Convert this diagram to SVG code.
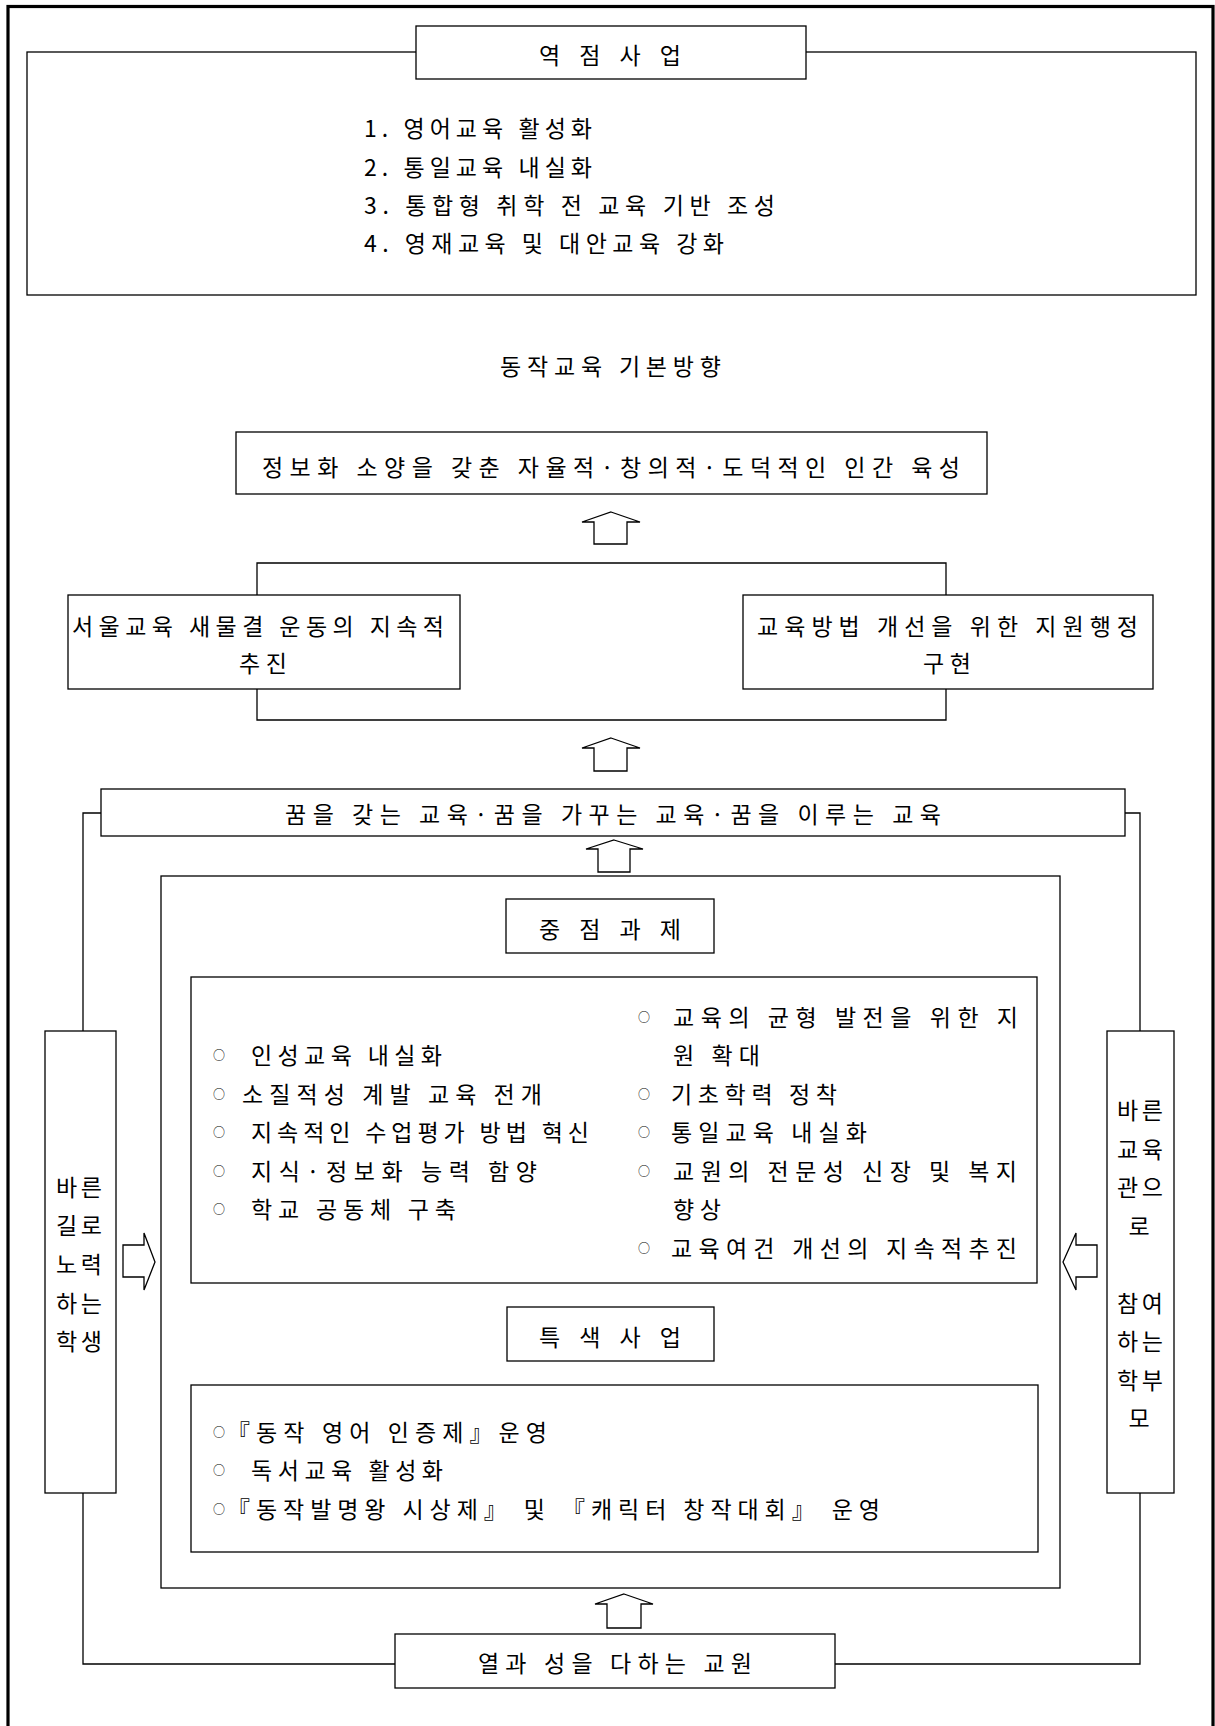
<svg xmlns="http://www.w3.org/2000/svg" width="1215" height="1726" viewBox="0 0 1215 1726">
<style>
.box{fill:#fff;stroke:#000;stroke-width:1.3}
.ln{fill:none;stroke:#000;stroke-width:1.3}
.arr{fill:#fff;stroke:#000;stroke-width:1.3;stroke-linejoin:miter}
.t{font-family:"Noto Sans CJK KR","Noto Sans",sans-serif;font-size:23px;fill:#000;dominant-baseline:central}
.b{font-family:"Noto Sans CJK KR","Noto Sans",sans-serif;font-size:12px;fill:#000;dominant-baseline:central;text-anchor:middle}
.c{text-anchor:middle}
</style>
<rect width="1215" height="1726" fill="#fff"/>
<rect x="8" y="6.5" width="1205" height="1740" fill="none" stroke="#000" stroke-width="3.2"/>

<g id="connectors">
  <polyline class="ln" points="257,595 257,563 946,563 946,595"/>
  <polyline class="ln" points="257,689 257,720 946,720 946,689"/>
  <polyline class="ln" points="101,813 83,813 83,1031"/>
  <polyline class="ln" points="1125,813 1140,813 1140,1031"/>
  <polyline class="ln" points="83,1493 83,1664 395,1664"/>
  <polyline class="ln" points="1140,1493 1140,1664 835,1664"/>
  <polygon class="arr" points="611,512 640,522 627,522 627,544 594,544 594,522 582,522"/>
  <polygon class="arr" points="611,738 640,748 627,748 627,771 594,771 594,748 582,748"/>
  <polygon class="arr" points="614,840 643,849 630,849 630,872 598,872 598,849 586,849"/>
  <polygon class="arr" points="624,1594 653,1604 641,1604 641,1628 607,1628 607,1604 595,1604"/>
  <polygon class="arr" points="155,1262 144,1290 144,1277 123,1277 123,1245 144,1245 144,1233"/>
  <polygon class="arr" points="1063,1262 1076,1233 1076,1245 1097,1245 1097,1277 1076,1277 1076,1290"/>
</g>

<g id="key-projects">
  <rect class="box" x="27" y="52" width="1169" height="243"/>
  <rect class="box" x="416" y="26" width="390" height="53"/>
  <text class="t" x="539" y="54" textLength="142" lengthAdjust="spacing">역 점 사 업</text>
  <text class="t" x="364" y="127" textLength="228" lengthAdjust="spacing">1. 영어교육 활성화</text>
  <text class="t" x="364" y="166" textLength="228" lengthAdjust="spacing">2. 통일교육 내실화</text>
  <text class="t" x="364" y="204" textLength="411" lengthAdjust="spacing">3. 통합형 취학 전 교육 기반 조성</text>
  <text class="t" x="364" y="242" textLength="360" lengthAdjust="spacing">4. 영재교육 및 대안교육 강화</text>
</g>

<g id="direction-title">
  <text class="t" x="500" y="365" textLength="221" lengthAdjust="spacing">동작교육 기본방향</text>
</g>

<g id="goal">
  <rect class="box" x="236" y="432" width="751" height="62"/>
  <text class="t" x="262" y="466" textLength="698" lengthAdjust="spacing">정보화 소양을 갖춘 자율적·창의적·도덕적인 인간 육성</text>
</g>

<g id="seoul-movement">
  <rect class="box" x="68" y="595" width="392" height="94"/>
  <text class="t" x="72" y="625" textLength="372" lengthAdjust="spacing">서울교육 새물결 운동의 지속적</text>
  <text class="t" x="239" y="662" textLength="48" lengthAdjust="spacing">추진</text>
</g>

<g id="support-admin">
  <rect class="box" x="743" y="595" width="410" height="94"/>
  <text class="t" x="757" y="625" textLength="381" lengthAdjust="spacing">교육방법 개선을 위한 지원행정</text>
  <text class="t" x="923" y="662" textLength="48" lengthAdjust="spacing">구현</text>
</g>

<g id="dream-education">
  <rect class="box" x="101" y="789" width="1024" height="47"/>
  <text class="t" x="285" y="813" textLength="656" lengthAdjust="spacing">꿈을 갖는 교육·꿈을 가꾸는 교육·꿈을 이루는 교육</text>
</g>

<g id="core-frame">
  <rect class="box" x="161" y="876" width="899" height="712"/>
</g>

<g id="core-tasks-title">
  <rect class="box" x="506" y="899" width="208" height="54"/>
  <text class="t" x="539" y="928" textLength="142" lengthAdjust="spacing">중 점 과 제</text>
</g>

<g id="core-tasks">
  <rect class="box" x="191" y="977" width="846" height="306"/>
  <text class="b" x="219" y="1054">○</text>
  <text class="t" x="251" y="1054" textLength="191" lengthAdjust="spacing">인성교육 내실화</text>
  <text class="b" x="219" y="1093">○</text>
  <text class="t" x="242" y="1093" textLength="300" lengthAdjust="spacing">소질적성 계발 교육 전개</text>
  <text class="b" x="219" y="1131">○</text>
  <text class="t" x="251" y="1131" textLength="338" lengthAdjust="spacing">지속적인 수업평가 방법 혁신</text>
  <text class="b" x="219" y="1170">○</text>
  <text class="t" x="251" y="1170" textLength="286" lengthAdjust="spacing">지식·정보화 능력 함양</text>
  <text class="b" x="219" y="1208">○</text>
  <text class="t" x="251" y="1208" textLength="205" lengthAdjust="spacing">학교 공동체 구축</text>

  <text class="b" x="644" y="1016">○</text>
  <text class="t" x="673" y="1016" textLength="345" lengthAdjust="spacing">교육의 균형 발전을 위한 지</text>
  <text class="t" x="673" y="1054" textLength="87" lengthAdjust="spacing">원 확대</text>
  <text class="b" x="644" y="1093">○</text>
  <text class="t" x="671" y="1093" textLength="166" lengthAdjust="spacing">기초학력 정착</text>
  <text class="b" x="644" y="1131">○</text>
  <text class="t" x="671" y="1131" textLength="196" lengthAdjust="spacing">통일교육 내실화</text>
  <text class="b" x="644" y="1170">○</text>
  <text class="t" x="673" y="1170" textLength="344" lengthAdjust="spacing">교원의 전문성 신장 및 복지</text>
  <text class="t" x="673" y="1208" textLength="48" lengthAdjust="spacing">향상</text>
  <text class="b" x="644" y="1247">○</text>
  <text class="t" x="671" y="1247" textLength="346" lengthAdjust="spacing">교육여건 개선의 지속적추진</text>
</g>

<g id="special-title">
  <rect class="box" x="507" y="1307" width="207" height="54"/>
  <text class="t" x="539" y="1336" textLength="142" lengthAdjust="spacing">특 색 사 업</text>
</g>

<g id="special-projects">
  <rect class="box" x="191" y="1385" width="847" height="167"/>
  <text class="b" x="219" y="1431">○</text>
  <text class="t" x="227" y="1431" textLength="320" lengthAdjust="spacing">『동작 영어 인증제』운영</text>
  <text class="b" x="219" y="1469">○</text>
  <text class="t" x="251" y="1469" textLength="192" lengthAdjust="spacing">독서교육 활성화</text>
  <text class="b" x="219" y="1508">○</text>
  <text class="t" x="227" y="1508" textLength="653" lengthAdjust="spacing">『동작발명왕 시상제』 및 『캐릭터 창작대회』 운영</text>
</g>

<g id="students">
  <rect class="box" x="45" y="1031" width="71" height="462"/>
  <text class="t" x="56" y="1186" textLength="46" lengthAdjust="spacing">바른</text>
  <text class="t" x="56" y="1224" textLength="46" lengthAdjust="spacing">길로</text>
  <text class="t" x="56" y="1263" textLength="46" lengthAdjust="spacing">노력</text>
  <text class="t" x="56" y="1302" textLength="46" lengthAdjust="spacing">하는</text>
  <text class="t" x="56" y="1340" textLength="46" lengthAdjust="spacing">학생</text>
</g>

<g id="parents">
  <rect class="box" x="1107" y="1031" width="67" height="462"/>
  <text class="t" x="1117" y="1109" textLength="46" lengthAdjust="spacing">바른</text>
  <text class="t" x="1117" y="1148" textLength="46" lengthAdjust="spacing">교육</text>
  <text class="t" x="1117" y="1186" textLength="46" lengthAdjust="spacing">관으</text>
  <text class="t c" x="1139" y="1225">로</text>
  <text class="t" x="1117" y="1302" textLength="46" lengthAdjust="spacing">참여</text>
  <text class="t" x="1117" y="1340" textLength="46" lengthAdjust="spacing">하는</text>
  <text class="t" x="1117" y="1379" textLength="46" lengthAdjust="spacing">학부</text>
  <text class="t c" x="1139" y="1417">모</text>
</g>

<g id="teachers">
  <rect class="box" x="395" y="1634" width="440" height="54"/>
  <text class="t" x="478" y="1662" textLength="274" lengthAdjust="spacing">열과 성을 다하는 교원</text>
</g>
</svg>
